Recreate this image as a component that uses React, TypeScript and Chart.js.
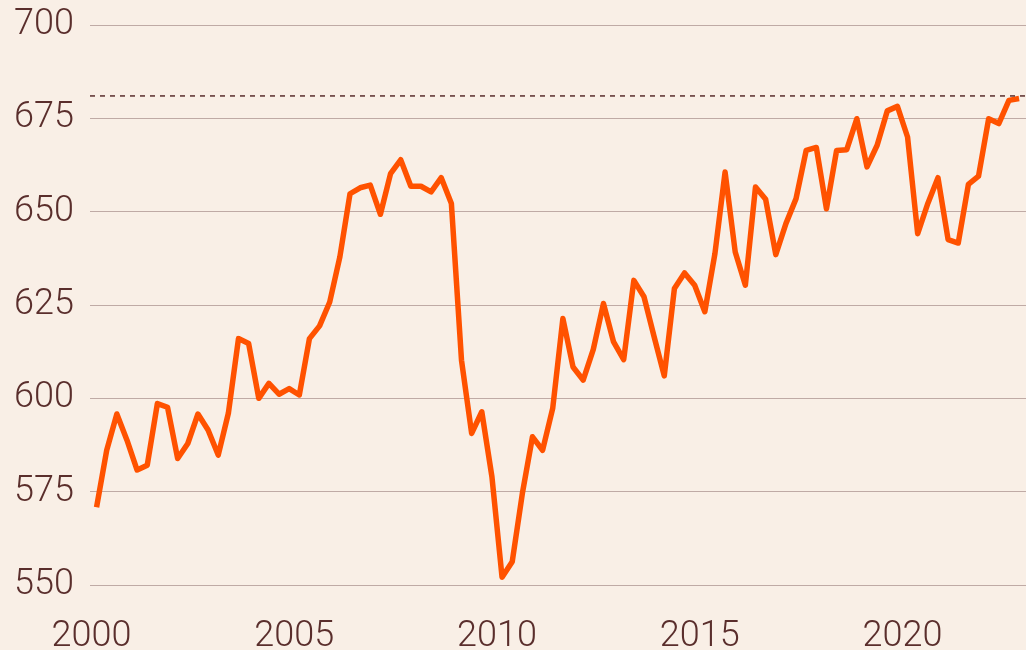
import React, { useEffect, useRef } from "react";
import { Chart, registerables } from "chart.js";

Chart.register(...registerables);

// Quarterly series, 2000 Q1 – 2022 Q4
const startYear = 2000;
const quartersPerYear = 4;
const values: number[] = [
  570.8, 586.1, 595.8, 588.8, 580.8, 582.1, 598.6, 597.6,
  583.9, 587.9, 595.8, 591.5, 584.8, 596.0, 616.0, 614.7,
  600.0, 604.0, 601.1, 602.6, 600.9, 616.0, 619.4, 625.8,
  637.9, 654.8, 656.4, 657.1, 649.3, 660.2, 663.9, 656.8,
  656.8, 655.3, 659.1, 652.2, 610.2, 590.6, 596.4, 579.0,
  552.1, 556.2, 574.5, 589.7, 586.1, 597.4, 621.4, 608.4,
  604.9, 613.1, 625.4, 615.1, 610.4, 631.6, 627.2, 616.5,
  606.0, 629.4, 633.6, 630.3, 623.2, 638.8, 660.6, 639.2,
  630.3, 656.6, 653.3, 638.5, 646.8, 653.5, 666.4, 667.2,
  650.8, 666.4, 666.6, 674.9, 662.0, 667.8, 677.0, 678.2,
  670.0, 644.1, 652.2, 659.1, 642.5, 641.6, 657.3, 659.5,
  674.9, 673.6, 679.8, 680.3,
];
const referenceLevel = 681;
const yTicks: number[] = [550, 575, 600, 625, 650, 675, 700];
const xTicks: number[] = [2000, 2005, 2010, 2015, 2020];
const xMin = 1999.963;
const xMax = 2023.046;

const BG = "#f9efe6";
const TEXT = "#5a2e2c";
const GRID = "#bfaaa5";
const LINE = "#ff5200";

export default function App() {
  const ref = useRef<HTMLCanvasElement | null>(null);

  useEffect(() => {
    document.body.style.margin = "0";
    document.body.style.background = BG;
    const canvas = ref.current;
    if (!canvas) return;
    const points = values.map((v, i) => ({
      x: startYear + i / quartersPerYear + 1 / (2 * quartersPerYear),
      y: v,
    }));
    const bgPlugin = {
      id: "bg",
      beforeDraw(chart: any) {
        const ctx = chart.ctx;
        ctx.save();
        ctx.fillStyle = BG;
        ctx.fillRect(0, 0, chart.width, chart.height);
        ctx.restore();
      },
    };
    const font = { family: "Roboto", size: 36, weight: "300" as any, lineHeight: 1 };
    const chart = new Chart(canvas, {
      type: "line",
      data: {
        datasets: [
          {
            data: [
              { x: xMin, y: referenceLevel },
              { x: xMax, y: referenceLevel },
            ],
            borderColor: TEXT,
            borderWidth: 1.5,
            borderDash: [5, 5],
            pointRadius: 0,
            fill: false,
          },
          {
            data: points,
            borderColor: LINE,
            borderWidth: 5.5,
            borderJoinStyle: "round",
            pointRadius: 0,
            tension: 0,
            fill: false,
          },
        ],
      },
      options: {
        animation: false,
        responsive: false,
        devicePixelRatio: 1,
        layout: { padding: { top: 25, right: 0, left: 0, bottom: 0 } },
        plugins: {
          legend: { display: false },
          tooltip: { enabled: false },
        },
        scales: {
          x: {
            type: "linear",
            min: xMin,
            max: xMax,
            grid: { display: false, drawTicks: false },
            border: { display: false },
            afterBuildTicks: (axis: any) => {
              axis.ticks = xTicks.map((v) => ({ value: v }));
            },
            afterFit: (axis: any) => {
              axis.height = 65;
              axis.paddingLeft = 0;
              axis.paddingRight = 0;
            },
            ticks: {
              color: TEXT,
              font,
              padding: 34,
              maxRotation: 0,
              autoSkip: false,
              callback: (v: any) => String(v),
            },
          },
          y: {
            min: 550,
            max: 700,
            grid: { color: GRID, lineWidth: 1, drawTicks: false },
            border: { display: false },
            afterBuildTicks: (axis: any) => {
              axis.ticks = yTicks.map((v) => ({ value: v }));
            },
            afterFit: (axis: any) => {
              axis.width = 90;
              axis.paddingTop = 0;
              axis.paddingBottom = 0;
            },
            ticks: {
              color: TEXT,
              font,
              padding: 16,
              callback: (v: any) => String(v),
            },
          },
        },
      },
      plugins: [bgPlugin],
    });
    return () => chart.destroy();
  }, []);

  return (
    <div style={{ width: 1026, height: 650, background: BG }}>
      <canvas ref={ref} width={1026} height={650} style={{ display: "block" }} />
    </div>
  );
}
